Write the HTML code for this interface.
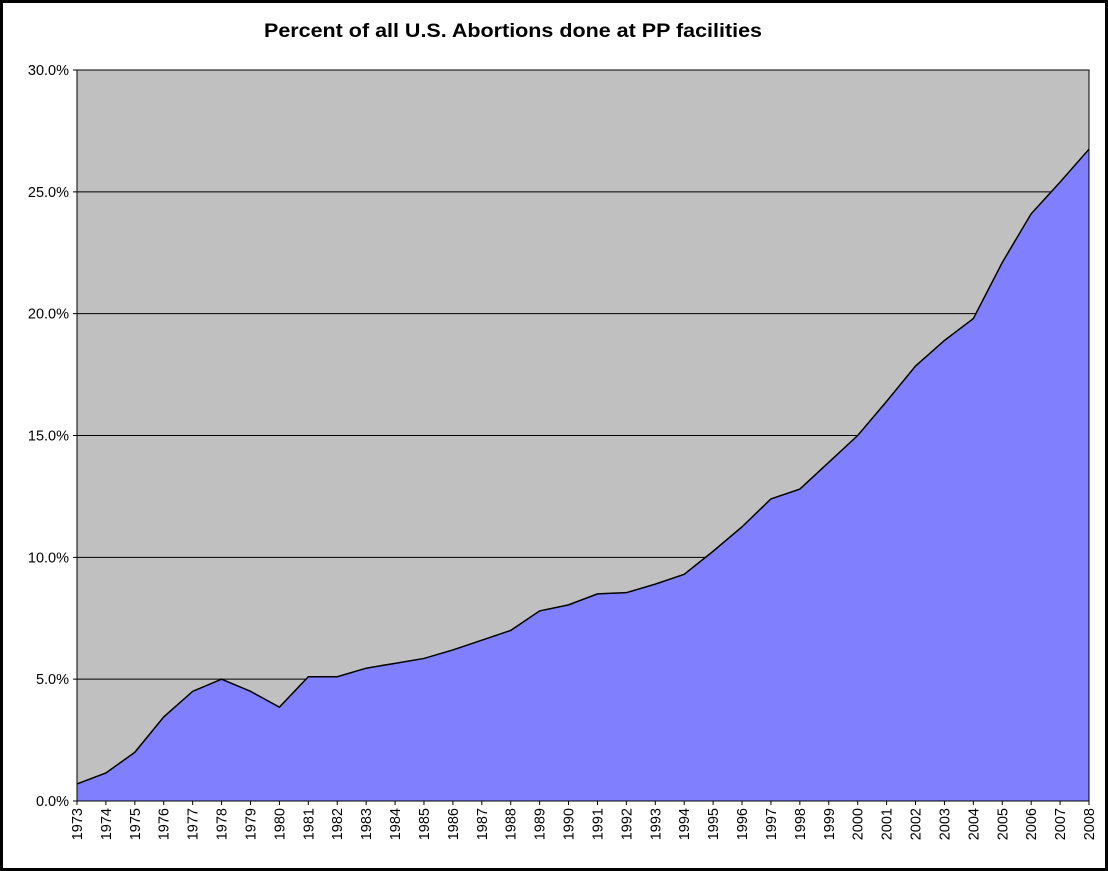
<!DOCTYPE html>
<html><head><meta charset="utf-8"><style>
body{margin:0;background:#fff;}
svg{display:block;font-family:"Liberation Sans",sans-serif;}
</style></head><body>
<svg id="c" width="1108" height="871">
<rect x="1.5" y="1.5" width="1105" height="868" fill="#fff" stroke="#000" stroke-width="3"/>
<text x="264" y="37" font-size="19" font-weight="bold" textLength="498" lengthAdjust="spacingAndGlyphs">Percent of all U.S. Abortions done at PP facilities</text>
</svg>
<script>
const years=[1973,1974,1975,1976,1977,1978,1979,1980,1981,1982,1983,1984,1985,1986,1987,1988,1989,1990,1991,1992,1993,1994,1995,1996,1997,1998,1999,2000,2001,2002,2003,2004,2005,2006,2007,2008];
const values=[0.7,1.15,2.0,3.45,4.5,5.0,4.5,3.85,5.1,5.1,5.45,5.65,5.85,6.2,6.6,7.0,7.8,8.05,8.5,8.55,8.9,9.3,10.25,11.25,12.4,12.8,13.9,15.0,16.4,17.85,18.9,19.8,22.1,24.1,25.4,26.75];
const yTicks=[0,5,10,15,20,25,30];
const yTickLabels=["0.0%","5.0%","10.0%","15.0%","20.0%","25.0%","30.0%"];
const svg=document.getElementById('c');
const NS='http://www.w3.org/2000/svg';
const L=77,R=1089,T=70,B=801;
const x=i=>L+(R-L)*i/(years.length-1);
const y=v=>B-(B-T)*v/30;
function mk(t,a){const e=document.createElementNS(NS,t);for(const k in a)e.setAttribute(k,a[k]);svg.appendChild(e);return e;}
const bg=mk('rect',{x:L,y:T,width:R-L,height:B-T,fill:'#c0c0c0'});


yTicks.forEach((t,i)=>{
 const g=mk('line',{x1:L-4,x2:R,y1:y(t),y2:y(t),stroke:'#000','stroke-width':1});
 
 
 const tx=mk('text',{x:L-8,y:y(t)+5,'text-anchor':'end','font-size':14.5});
 tx.textContent=yTickLabels[i];
 
 
});
let d='M'+x(0)+','+B;
values.forEach((v,i)=>{d+=' L'+x(i)+','+y(v);});
d+=' L'+x(values.length-1)+','+B+' Z';
const area=mk('path',{d:d,fill:'#8080ff'});


const line=mk('polyline',{points:values.map((v,i)=>x(i)+','+y(v)).join(' '),fill:'none',stroke:'#000','stroke-width':1.5});


const fr=mk('rect',{x:L,y:T,width:R-L,height:B-T,fill:'none',stroke:'#000','stroke-width':1});


years.forEach((yr,i)=>{
 const tk=mk('line',{x1:x(i),x2:x(i),y1:B,y2:B+4,stroke:'#000'});
 
 
 const tx=mk('text',{x:0,y:0,'text-anchor':'end','font-size':14.5,transform:'translate('+(x(i)+5)+','+(B+7)+') rotate(-90)'});
 tx.textContent=yr;
 
 
});
</script>
</body></html>
